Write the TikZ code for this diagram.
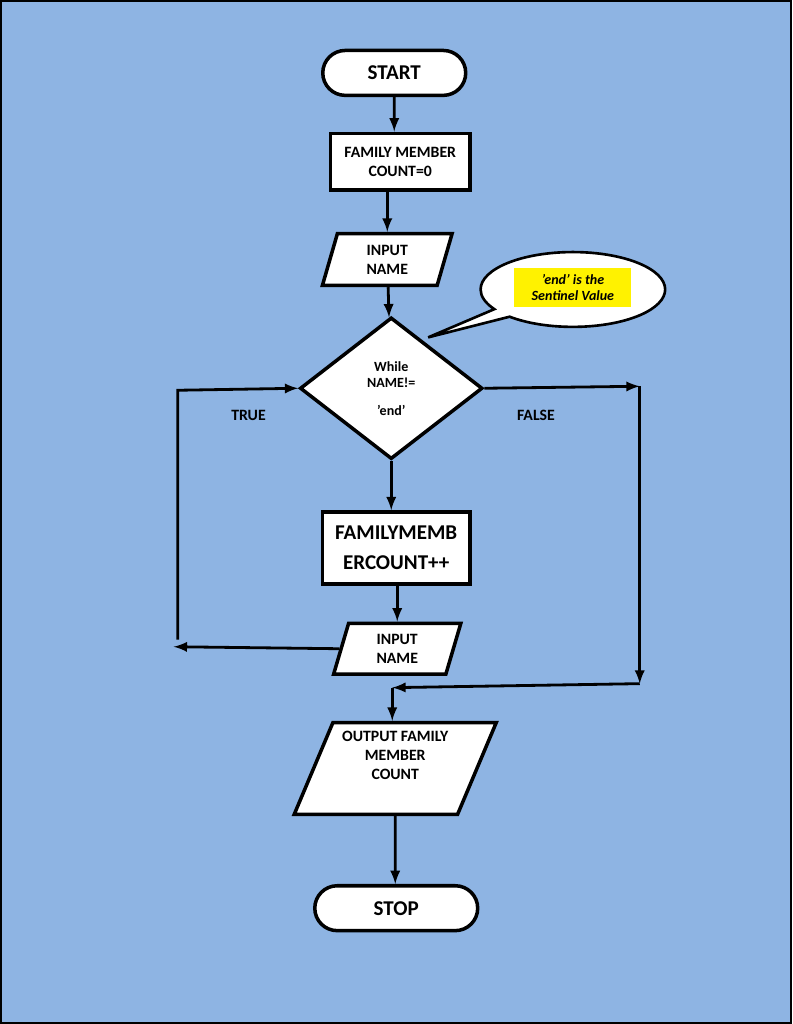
\documentclass[tikz,border=0pt]{standalone}
\usepackage{fontspec}
\setmainfont{Carlito}
\usetikzlibrary{positioning}
\usetikzlibrary{shapes.geometric}
\usetikzlibrary{shapes.misc}
\usetikzlibrary{shapes.callouts}
\definecolor{bgblue}{HTML}{8EB4E3}
\tikzstyle{term} = [draw, line width=2pt, fill=white, rounded rectangle, minimum width=3.1cm, minimum height=0.9cm, font=\bfseries\large]
\tikzstyle{proc} = [draw, line width=2pt, fill=white, align=center, font=\bfseries\small]
\tikzstyle{io} = [draw, line width=2pt, fill=white, align=center, trapezium, trapezium left angle=70, trapezium right angle=110, trapezium stretches body, font=\bfseries\small]
\tikzstyle{arr} = [line width=1.6pt, -latex]
\begin{document}
\begin{tikzpicture}[x=0.02cm, y=-0.02cm]
  \draw[fill=bgblue, line width=1.2pt] (0,0) rectangle (792,1024);

  \node[term] (start) at (394,72) {START};
  \node[proc, minimum width=2.8cm, minimum height=1.14cm] (init) at (400,161) {FAMILY MEMBER\\COUNT=0};
  \node[io, minimum width=2.6cm, minimum height=1.04cm] (in1) at (387,259) {INPUT\\NAME};
  \node[draw, line width=2pt, fill=white, diamond, minimum width=3.66cm, minimum height=2.84cm, inner sep=0pt, align=center, font=\bfseries\footnotesize] (loop) at (391,388) {While\\NAME!=\\[6pt]'end'};
  \node[proc, minimum width=2.96cm, minimum height=1.44cm, font=\bfseries\large, align=center] (incr) at (396,548) {FAMILYMEMB\\[3pt]ERCOUNT++};
  \node[io, minimum width=2.55cm, minimum height=1.02cm] (in2) at (397,649) {INPUT\\NAME};
  \node[io, trapezium left angle=66, trapezium right angle=114, minimum width=4.05cm, minimum height=1.84cm] (out) at (395,769) {OUTPUT FAMILY\\MEMBER\\COUNT\\[4pt]};
  \node[term, minimum width=3.5cm] (stop) at (396,909) {STOP};

  \node[ellipse callout, draw, line width=1.5pt, fill=white, minimum width=3.7cm, minimum height=1.5cm, callout absolute pointer={(428,337)}] (note) at (573,289) {};
  \node[fill=yellow, align=center, font=\bfseries\itshape\footnotesize, minimum width=2.35cm, minimum height=0.8cm, inner sep=1pt] (sentinel) at (573,287) {'end' is the\\Sentinel Value};

  \coordinate (tl) at (177,640);
  \coordinate (tu) at (177,390);
  \coordinate (fr) at (640,386);
  \coordinate (fb) at (640,684);
  \coordinate (fl) at (392,688);

  \draw[arr] (start) -- (start |- init.north);
  \draw[arr] (in1 |- init.south) -- (in1 |- in1.north);
  \draw[arr] (in1) -- (loop);
  \draw[arr] (loop) -- (loop |- incr.north);
  \draw[arr] (in2 |- incr.south) -- (in2 |- in2.north);
  \draw[arr] (in2.west) -- (173,647);
  \draw[arr] (tl) -- (tu) -- (loop.west);
  \draw[arr] (loop.east) -- (fr);
  \draw[arr] (fr) -- (fb);
  \draw[arr] (fb) -- (fl);
  \draw[arr] (fl) -- (fl |- out.north);
  \draw[arr] (out) -- (out |- stop.north);

  \node[font=\bfseries\small] (true) at (248,415) {TRUE};
  \node[font=\bfseries\small] (false) at (536,415) {FALSE};
\end{tikzpicture}
\end{document}
